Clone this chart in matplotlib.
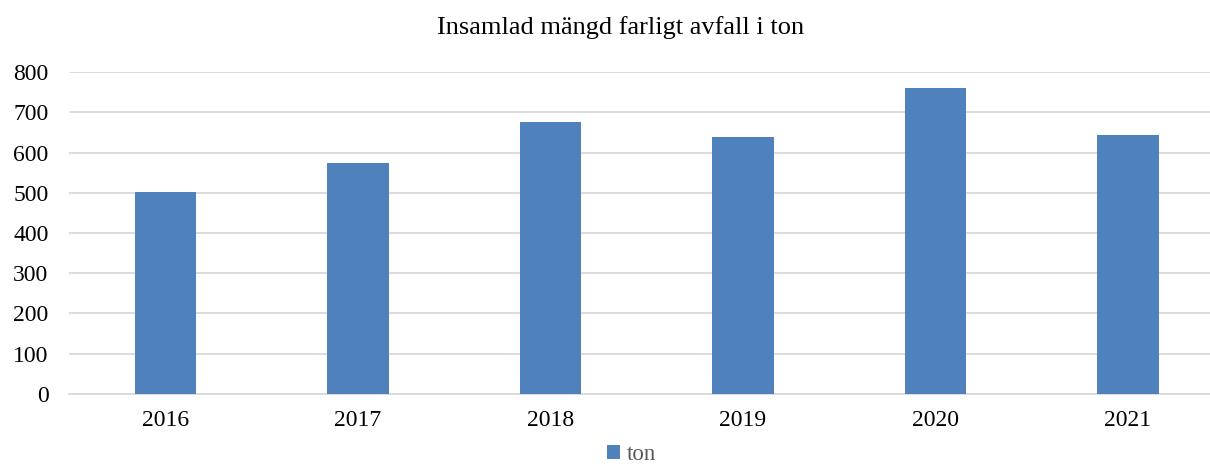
import matplotlib.pyplot as plt
import numpy as np

years = ["2016", "2017", "2018", "2019", "2020", "2021"]
ton = [501, 573, 675, 638, 762, 643]

plt.rcParams['font.family'] = ['Liberation Serif', 'DejaVu Serif']

fig = plt.figure(figsize=(12.1, 4.66), dpi=100)
# plot area runs a little past the right edge, as in the original
ax = fig.add_axes([0.0572, 0.155, 0.9545, 0.69])

x = np.arange(len(years))
ax.bar(x, ton, width=0.32, color='#4F81BD', label='ton', zorder=3)

ax.set_xlim(-0.5, len(years) - 0.5)
ax.set_ylim(0, 800)
ax.set_yticks(range(0, 801, 100))
ax.set_xticks(x)
ax.set_xticklabels(years)
ax.grid(axis='y', color='#D9D9D9', linewidth=1.3, zorder=0)
for s in ['top', 'right', 'left']:
    ax.spines[s].set_visible(False)
ax.spines['bottom'].set_color('#D9D9D9')
ax.spines['bottom'].set_linewidth(1.3)
ax.tick_params(axis='both', length=0, labelsize=17, colors='black')
ax.tick_params(axis='y', pad=15)
ax.tick_params(axis='x', pad=12)

fig.text(0.513, 0.94, "Insamlad mängd farligt avfall i ton", ha='center', va='center', fontsize=19)

leg = fig.legend(loc='center', bbox_to_anchor=(0.522, 0.024), frameon=False,
                 fontsize=16.5, handlelength=0.55, handleheight=0.55, handletextpad=0.3,
                 borderpad=0.1)
for t in leg.get_texts():
    t.set_color('#595959')

fig.savefig('out.png', dpi=100)
